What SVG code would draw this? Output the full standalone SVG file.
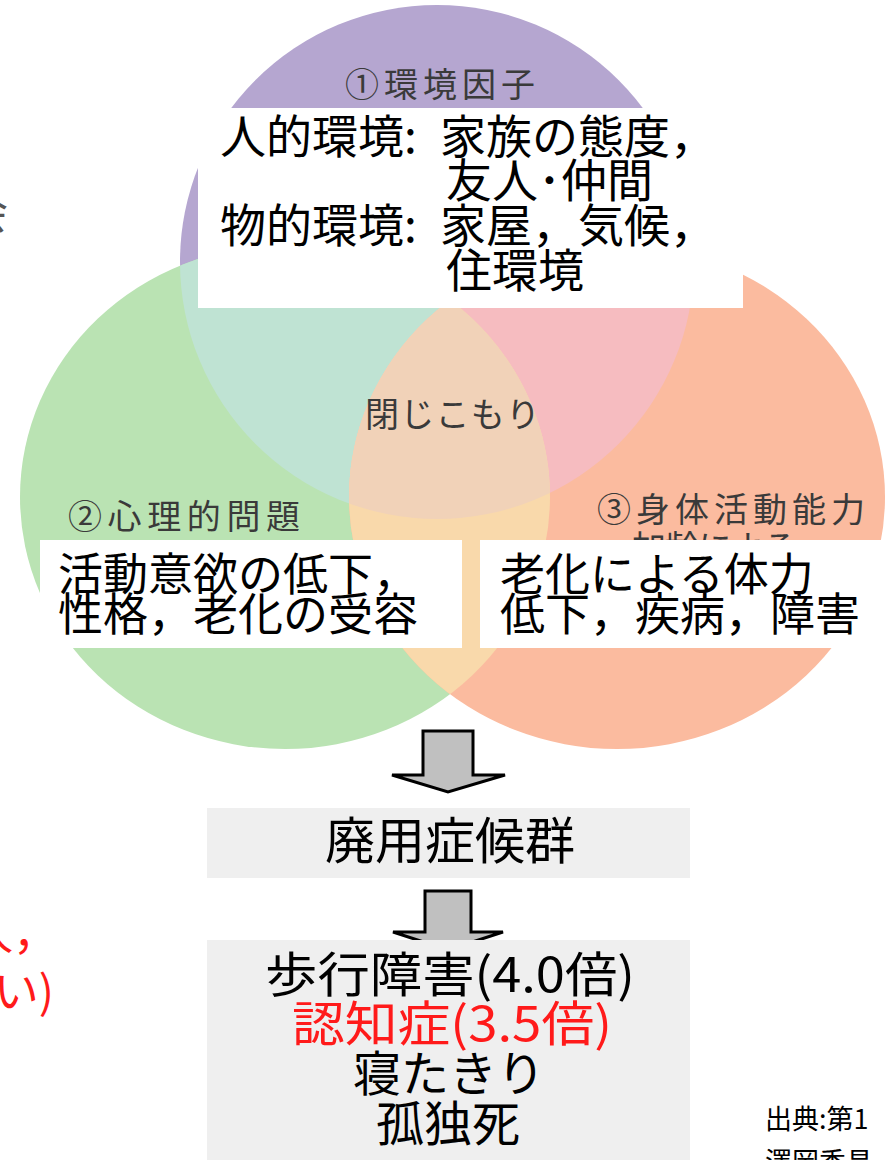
<svg xmlns="http://www.w3.org/2000/svg" width="890" height="1160" viewBox="0 0 890 1160">
<style>
.t{font-family:"Noto Sans CJK JP","Noto Sans",sans-serif;fill:#000}
.big{font-size:46px}
.box{font-size:45px}
.lbl{font-family:"Noto Sans CJK JP","Noto Sans",sans-serif;font-size:34px;fill:#3a3a3a}
.red{fill:#ff1a1a}
.arrow{fill:#c0c0c0;stroke:#000;stroke-width:3;stroke-linejoin:miter}
</style>
<defs>
<clipPath id="cP"><circle cx="437" cy="262" r="257"/></clipPath>
<clipPath id="cG"><ellipse cx="285" cy="497" rx="265" ry="252"/></clipPath>
</defs>
<rect width="890" height="1160" fill="#fff"/>
<g id="venn">
<circle id="circle-env" cx="437" cy="262" r="257" fill="#b5a6d0"/>
<ellipse id="circle-psy" cx="285" cy="497" rx="265" ry="252" fill="#bae3b3"/>
<ellipse id="circle-phys" cx="617" cy="497" rx="268" ry="252" fill="#fbbb9f"/>
<ellipse cx="285" cy="497" rx="265" ry="252" fill="#bfe3d3" clip-path="url(#cP)"/>
<ellipse cx="617" cy="497" rx="268" ry="252" fill="#f6bcc0" clip-path="url(#cP)"/>
<ellipse cx="617" cy="497" rx="268" ry="252" fill="#f9d9ab" clip-path="url(#cG)"/>
<g clip-path="url(#cP)"><ellipse cx="617" cy="497" rx="268" ry="252" fill="#f1d2b8" clip-path="url(#cG)"/></g>
</g>
<g id="labels">
<text class="lbl" x="345" y="97" textLength="190" lengthAdjust="spacing">①環境因子</text>
<text class="lbl" x="365" y="427" textLength="175" lengthAdjust="spacing">閉じこもり</text>
<text class="lbl" x="68" y="529" textLength="232" lengthAdjust="spacing">②心理的問題</text>
<text class="lbl" x="597" y="522" textLength="268" lengthAdjust="spacing">③身体活動能力</text>
<text class="lbl" x="632" y="560" textLength="165" lengthAdjust="spacing">加齢による</text>
</g>
<g id="node-env">
<rect x="198" y="108" width="545" height="200" fill="#fff"/>
<text class="t big" x="220" y="153">人的環境:<tspan x="440">家族の態度，</tspan></text>
<text class="t big" x="446" y="197">友人･仲間</text>
<text class="t big" x="220" y="242">物的環境:<tspan x="440">家屋，気候，</tspan></text>
<text class="t big" x="446" y="287">住環境</text>
</g>
<g id="node-psy">
<rect x="40" y="540" width="422" height="108" fill="#fff"/>
<text class="t box" x="58" y="591">活動意欲の低下，</text>
<text class="t box" x="58" y="631">性格，老化の受容</text>
</g>
<g id="node-phys">
<rect x="480" y="540" width="405" height="108" fill="#fff"/>
<text class="t box" x="500" y="591">老化による体力</text>
<text class="t box" x="500" y="631">低下，疾病，障害</text>
</g>
<g id="connectors">
<path class="arrow" d="M423 731 H473 V775 H505 L448 792 L392 775 H423 Z"/>
<path class="arrow" d="M425 891 H471 V932 H503 L448 950 L393 932 H425 Z"/>
</g>
<g id="node-disuse">
<rect x="207" y="808" width="483" height="70" fill="#efefef"/>
<text class="t" style="font-size:50px" x="450" y="859" text-anchor="middle">廃用症候群</text>
</g>
<g id="node-outcomes">
<rect x="207" y="940" width="483" height="220" fill="#efefef"/>
<text class="t" style="font-size:48px" x="450" y="992" text-anchor="middle" textLength="370" lengthAdjust="spacingAndGlyphs">歩行障害(4.0倍)</text>
<text class="t red" style="font-size:48px" x="452" y="1041" text-anchor="middle" textLength="320" lengthAdjust="spacingAndGlyphs">認知症(3.5倍)</text>
<text class="t" style="font-size:48px" x="449" y="1091" text-anchor="middle">寝たきり</text>
<text class="t" style="font-size:48px" x="448" y="1141" text-anchor="middle">孤独死</text>
</g>
<g id="side-text">
<text class="t" style="font-size:45px;fill:#555" x="-37" y="229">会</text>
<text class="t red" style="font-size:45px" x="58" y="950" text-anchor="end">人，</text>
<text class="t red" style="font-size:45px" x="54" y="1008" text-anchor="end">い)</text>
<text class="t" style="font-size:27px" x="765" y="1129">出典:第1</text>
<text class="t" style="font-size:27px" x="765" y="1172">澤岡秀昌</text>
</g>
</svg>
